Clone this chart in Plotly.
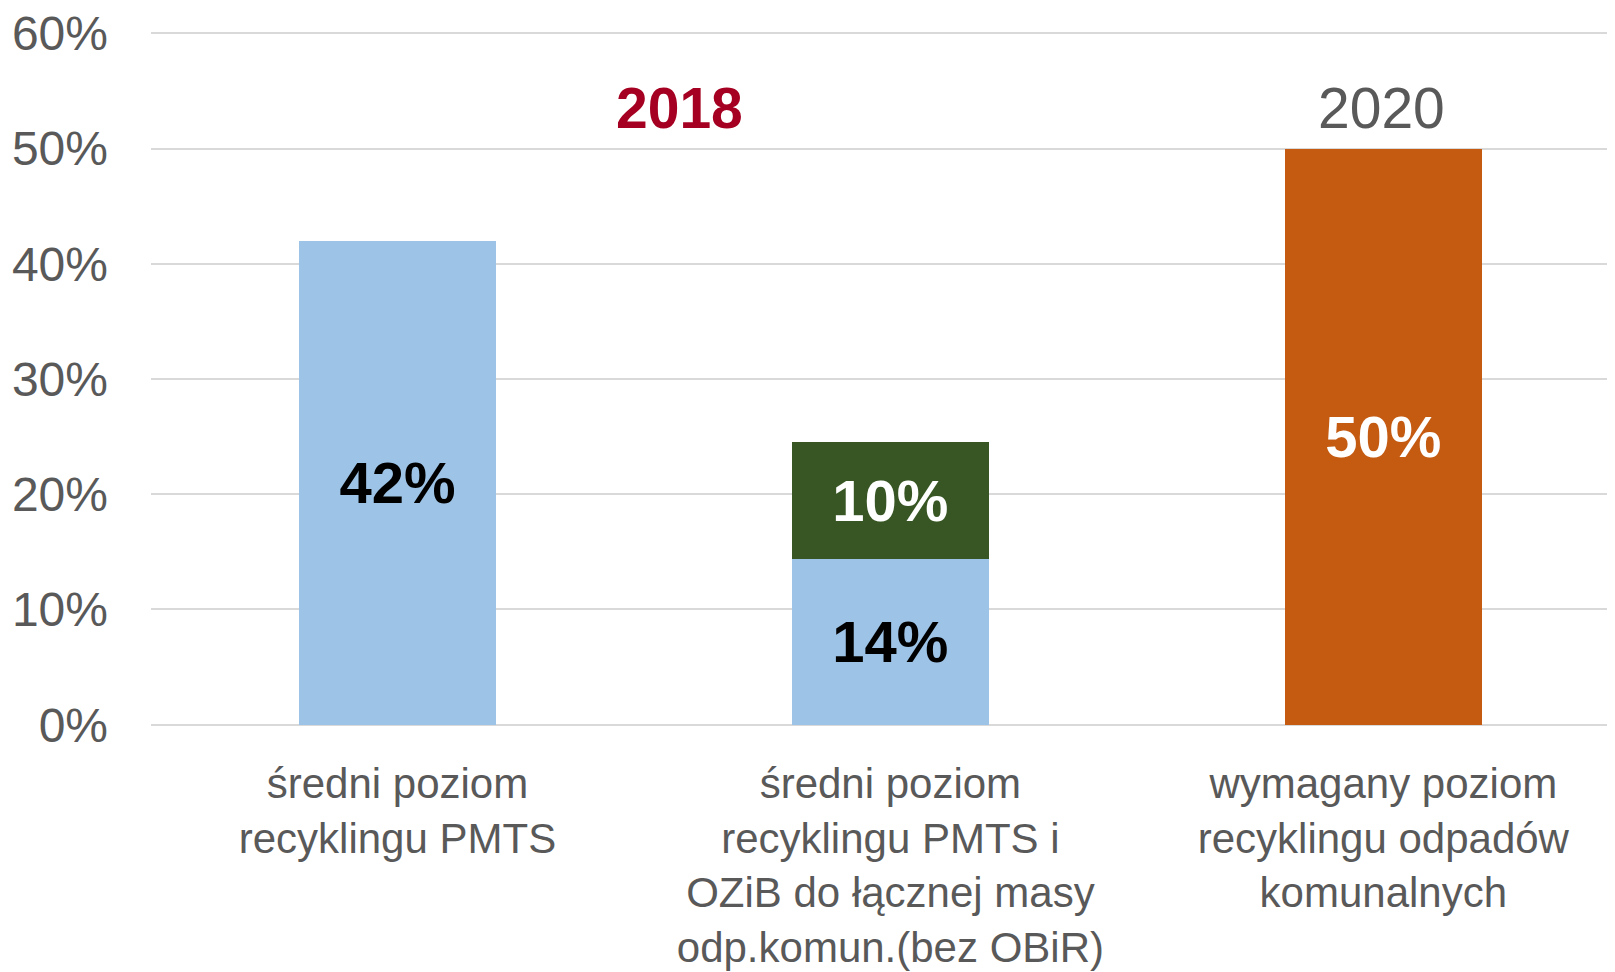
import plotly.graph_objects as go

# --- data ---
categories = [
    "średni poziom<br>recyklingu PMTS",
    "średni poziom<br>recyklingu PMTS i<br>OZiB do łącznej masy<br>odp.komun.(bez OBiR)",
    "wymagany poziom<br>recyklingu odpadów<br>komunalnych",
]
pmts_x = [0, 1]
pmts_values = [42, 14.4]
pmts_labels = ["42%", "14%"]
ozib_x = [1]
ozib_values = [10.1]
ozib_labels = ["10%"]
target_x = [2]
target_values = [50]
target_labels = ["50%"]
y_ticks = [0, 10, 20, 30, 40, 50, 60]
y_tick_labels = ["0%", "10%", "20%", "30%", "40%", "50%", "60%"]

FONT = "Liberation Sans, Arial, sans-serif"
GREY = "#595959"

fig = go.Figure()
fig.add_trace(go.Bar(
    x=pmts_x, y=pmts_values, text=pmts_labels,
    marker=dict(color="#9DC3E6", line_width=0),
    textfont=dict(color="black", size=58, family=FONT, weight="bold"),
))
fig.add_trace(go.Bar(
    x=ozib_x, y=ozib_values, text=ozib_labels,
    marker=dict(color="#375623", line_width=0),
    textfont=dict(color="white", size=58, family=FONT, weight="bold"),
))
fig.add_trace(go.Bar(
    x=target_x, y=target_values, text=target_labels,
    marker=dict(color="#C55A11", line_width=0),
    textfont=dict(color="white", size=58, family=FONT, weight="bold"),
))
fig.update_traces(textposition="inside", insidetextanchor="middle",
                  constraintext="none", width=0.4, hoverinfo="skip")

# year headers
fig.add_annotation(x=0.572, y=53.5, text="<b>2018</b>", showarrow=False,
                   font=dict(size=57, color="#A50021", family=FONT))
fig.add_annotation(x=1.997, y=53.5, text="2020", showarrow=False,
                   font=dict(size=57, color=GREY, family=FONT))

# page body has an 8px default margin, so the figure is 8px smaller
fig.update_layout(
    width=1607, height=964,
    margin=dict(l=143, r=0, t=23, b=245),
    barmode="stack",
    showlegend=False,
    plot_bgcolor="white", paper_bgcolor="white",
    font=dict(family=FONT, color=GREY),
    xaxis=dict(
        range=[-0.5, 2.47],
        tickvals=[0, 1, 2], ticktext=categories,
        tickfont=dict(size=42, color=GREY),
        showgrid=False, zeroline=False, showline=False,
        ticks="", ticklabelstandoff=28, automargin=False,
        ticklabeloverflow="allow",
    ),
    yaxis=dict(
        range=[-0.2, 60.2],
        tickvals=y_ticks, ticktext=y_tick_labels,
        tickfont=dict(size=48, color=GREY),
        showgrid=True, gridcolor="#D9D9D9", gridwidth=2,
        zeroline=False, showline=False,
        ticks="", ticklabelstandoff=42, automargin=False,
        ticklabeloverflow="allow",
    ),
)

fig.write_html("out.html")
